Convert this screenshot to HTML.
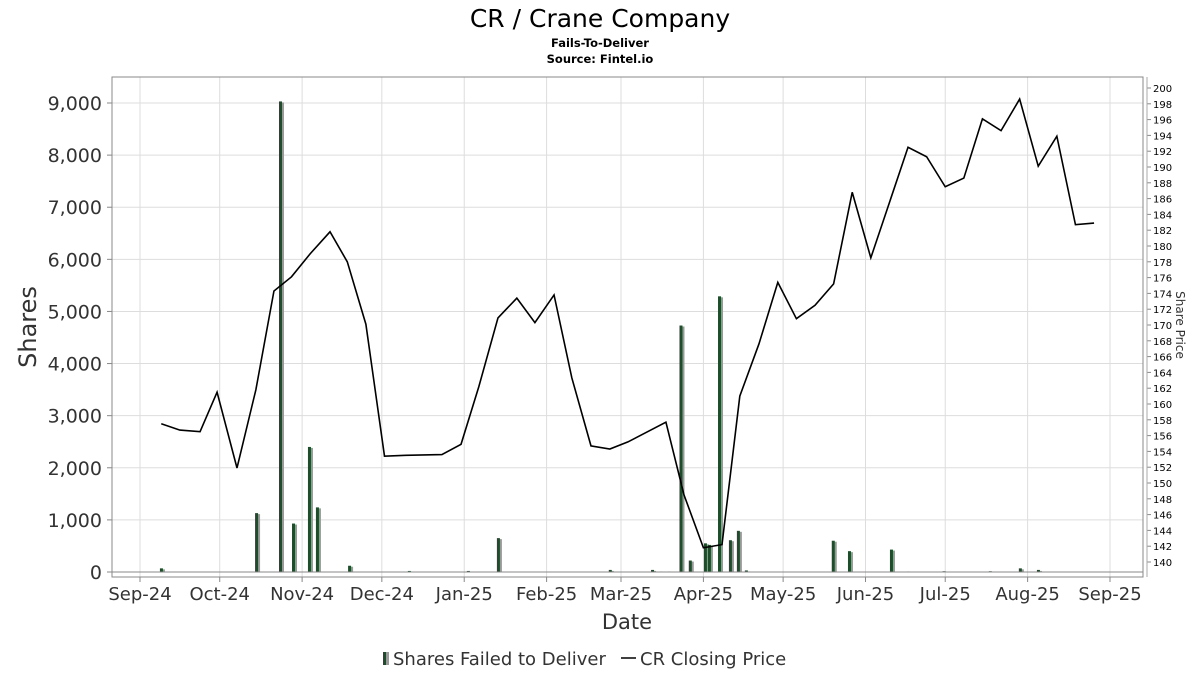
<!DOCTYPE html>
<html><head><meta charset="utf-8"><style>
body{margin:0;background:#fff;font-family:"DejaVu Sans","Liberation Sans",sans-serif}
svg{display:block}
</style></head><body>
<svg id="c" width="1200" height="675" font-family="DejaVu Sans, Liberation Sans, sans-serif">
<text x="600" y="27" text-anchor="middle" font-size="25">CR / Crane Company</text>
<text x="600" y="47" text-anchor="middle" font-size="11.5" font-weight="bold">Fails-To-Deliver</text>
<text x="600" y="63" text-anchor="middle" font-size="11.5" font-weight="bold">Source: Fintel.io</text>
<text transform="translate(36,327) rotate(-90)" text-anchor="middle" font-size="24" fill="#333">Shares</text>
<text transform="translate(1176,325) rotate(90)" text-anchor="middle" font-size="12" fill="#333">Share Price</text>
<text x="627" y="629" text-anchor="middle" font-size="21" fill="#333">Date</text>
<g>
<rect x="383" y="652" width="3" height="13" fill="#1e4d2b"/>
<rect x="386" y="652" width="3" height="13" fill="#999"/>
<text x="393" y="665" font-size="18" fill="#333">Shares Failed to Deliver</text>
<line x1="621" y1="658" x2="636" y2="658" stroke="#000" stroke-width="1.5"/>
<text x="640" y="665" font-size="18" fill="#333">CR Closing Price</text>
</g>
<g id="plot"></g>
</svg>
<script>
const ftdDays=[7.5,43.3,52.3,57.2,63.2,66.2,78.3,100.8,123,134.3,176.4,192.3,195.6,198.6,203,206.5,212.2,213.7,217.5,221.6,224.6,227.6,260.3,266.4,282.2,288.6,302,319.4,330.7,337.5];
const ftdValues=[70,1130,9030,930,2400,1240,120,20,20,650,40,40,10,10,4730,220,550,520,5290,610,790,30,600,400,430,10,15,15,70,40];
const priceDays=[8,15,22.6,29,36.5,43.6,50.4,57,64,71.5,78,85,92,100,113.6,120.8,127.5,134.7,141.8,148.6,155.8,162.5,169.7,176.8,183.6,197.9,204.7,212,219,225.7,232.9,240,247,254,261,268,275,289,296,303,310,317,324,331,338,345,352,359];
const priceValues=[157.5,156.7,156.5,161.5,151.9,161.8,174.3,176.1,179,181.8,178,170.1,153.4,153.5,153.6,154.9,162.2,170.9,173.4,170.3,173.8,163.3,154.7,154.3,155.2,157.7,148.5,141.8,142.2,161,167.6,175.4,170.8,172.5,175.2,186.8,178.5,192.5,191.3,187.5,188.6,196.1,194.6,198.6,190.1,193.9,182.7,182.9];
const xTickLabels=["Sep-24","Oct-24","Nov-24","Dec-24","Jan-25","Feb-25","Mar-25","Apr-25","May-25","Jun-25","Jul-25","Aug-25","Sep-25"];
const xTickDays=[0,30,61,91,122,153,181,212,242,273,303,334,365];
const yTicks=[0,1000,2000,3000,4000,5000,6000,7000,8000,9000];
const y2Ticks=[140,142,144,146,148,150,152,154,156,158,160,162,164,166,168,170,172,174,176,178,180,182,184,186,188,190,192,194,196,198,200];
const NS="http://www.w3.org/2000/svg";
const g=document.getElementById('plot');
const L=112,R=1143,T=77,B=577;
const x=d=>140+d*(1110-140)/365;
const y=v=>572-v*(572-103)/9000;
const y2=p=>88+(200-p)*(562-88)/60;
function mk(t,a,p){const e=document.createElementNS(NS,t);for(const k in a)e.setAttribute(k,a[k]);(p||g).appendChild(e);return e;}
// grid
yTicks.forEach(v=>{const l=mk('line',{x1:L,x2:R,y1:y(v),y2:y(v),stroke:'#ddd'});


const t=mk('text',{x:102,y:y(v)+7,'text-anchor':'end','font-size':19,fill:'#333'});t.textContent=v.toLocaleString('en-US');


mk('line',{x1:L-5,x2:L,y1:y(v),y2:y(v),stroke:'#888'});});
xTickDays.forEach((d,i)=>{const l=mk('line',{x1:x(d),x2:x(d),y1:T,y2:B,stroke:'#ddd'});


mk('line',{x1:x(d),x2:x(d),y1:B,y2:B+5,stroke:'#888'});
const t=mk('text',{x:x(d),y:600,'text-anchor':'middle','font-size':18,fill:'#333'});t.textContent=xTickLabels[i];

});
y2Ticks.forEach(p=>{mk('line',{x1:1147,x2:1151,y1:y2(p),y2:y2(p),stroke:'#888'});
const t=mk('text',{x:1153,y:y2(p)+4,'font-size':10,fill:'#000'});t.textContent=p;

});
mk('line',{x1:1147,x2:1147,y1:T,y2:B,stroke:'#aaa'});
const fr=mk('rect',{x:L,y:T,width:R-L,height:B-T,fill:'none',stroke:'#888'});


// bars
ftdDays.forEach((d,i)=>{const v=ftdValues[i];const bx=x(d);
const s=mk('rect',{x:bx+2,y:y(v)+1,width:3,height:572-y(v)-1,fill:'#999'});


const b=mk('rect',{x:bx,y:y(v),width:3,height:572-y(v),fill:'#1e4d2b'});

});
mk('line',{x1:L,x2:R,y1:572,y2:572,stroke:'#888'});
// price line
const pl=mk('polyline',{points:priceDays.map((d,i)=>x(d)+','+y2(priceValues[i])).join(' '),fill:'none',stroke:'#000','stroke-width':1.6});


</script>
</body></html>
